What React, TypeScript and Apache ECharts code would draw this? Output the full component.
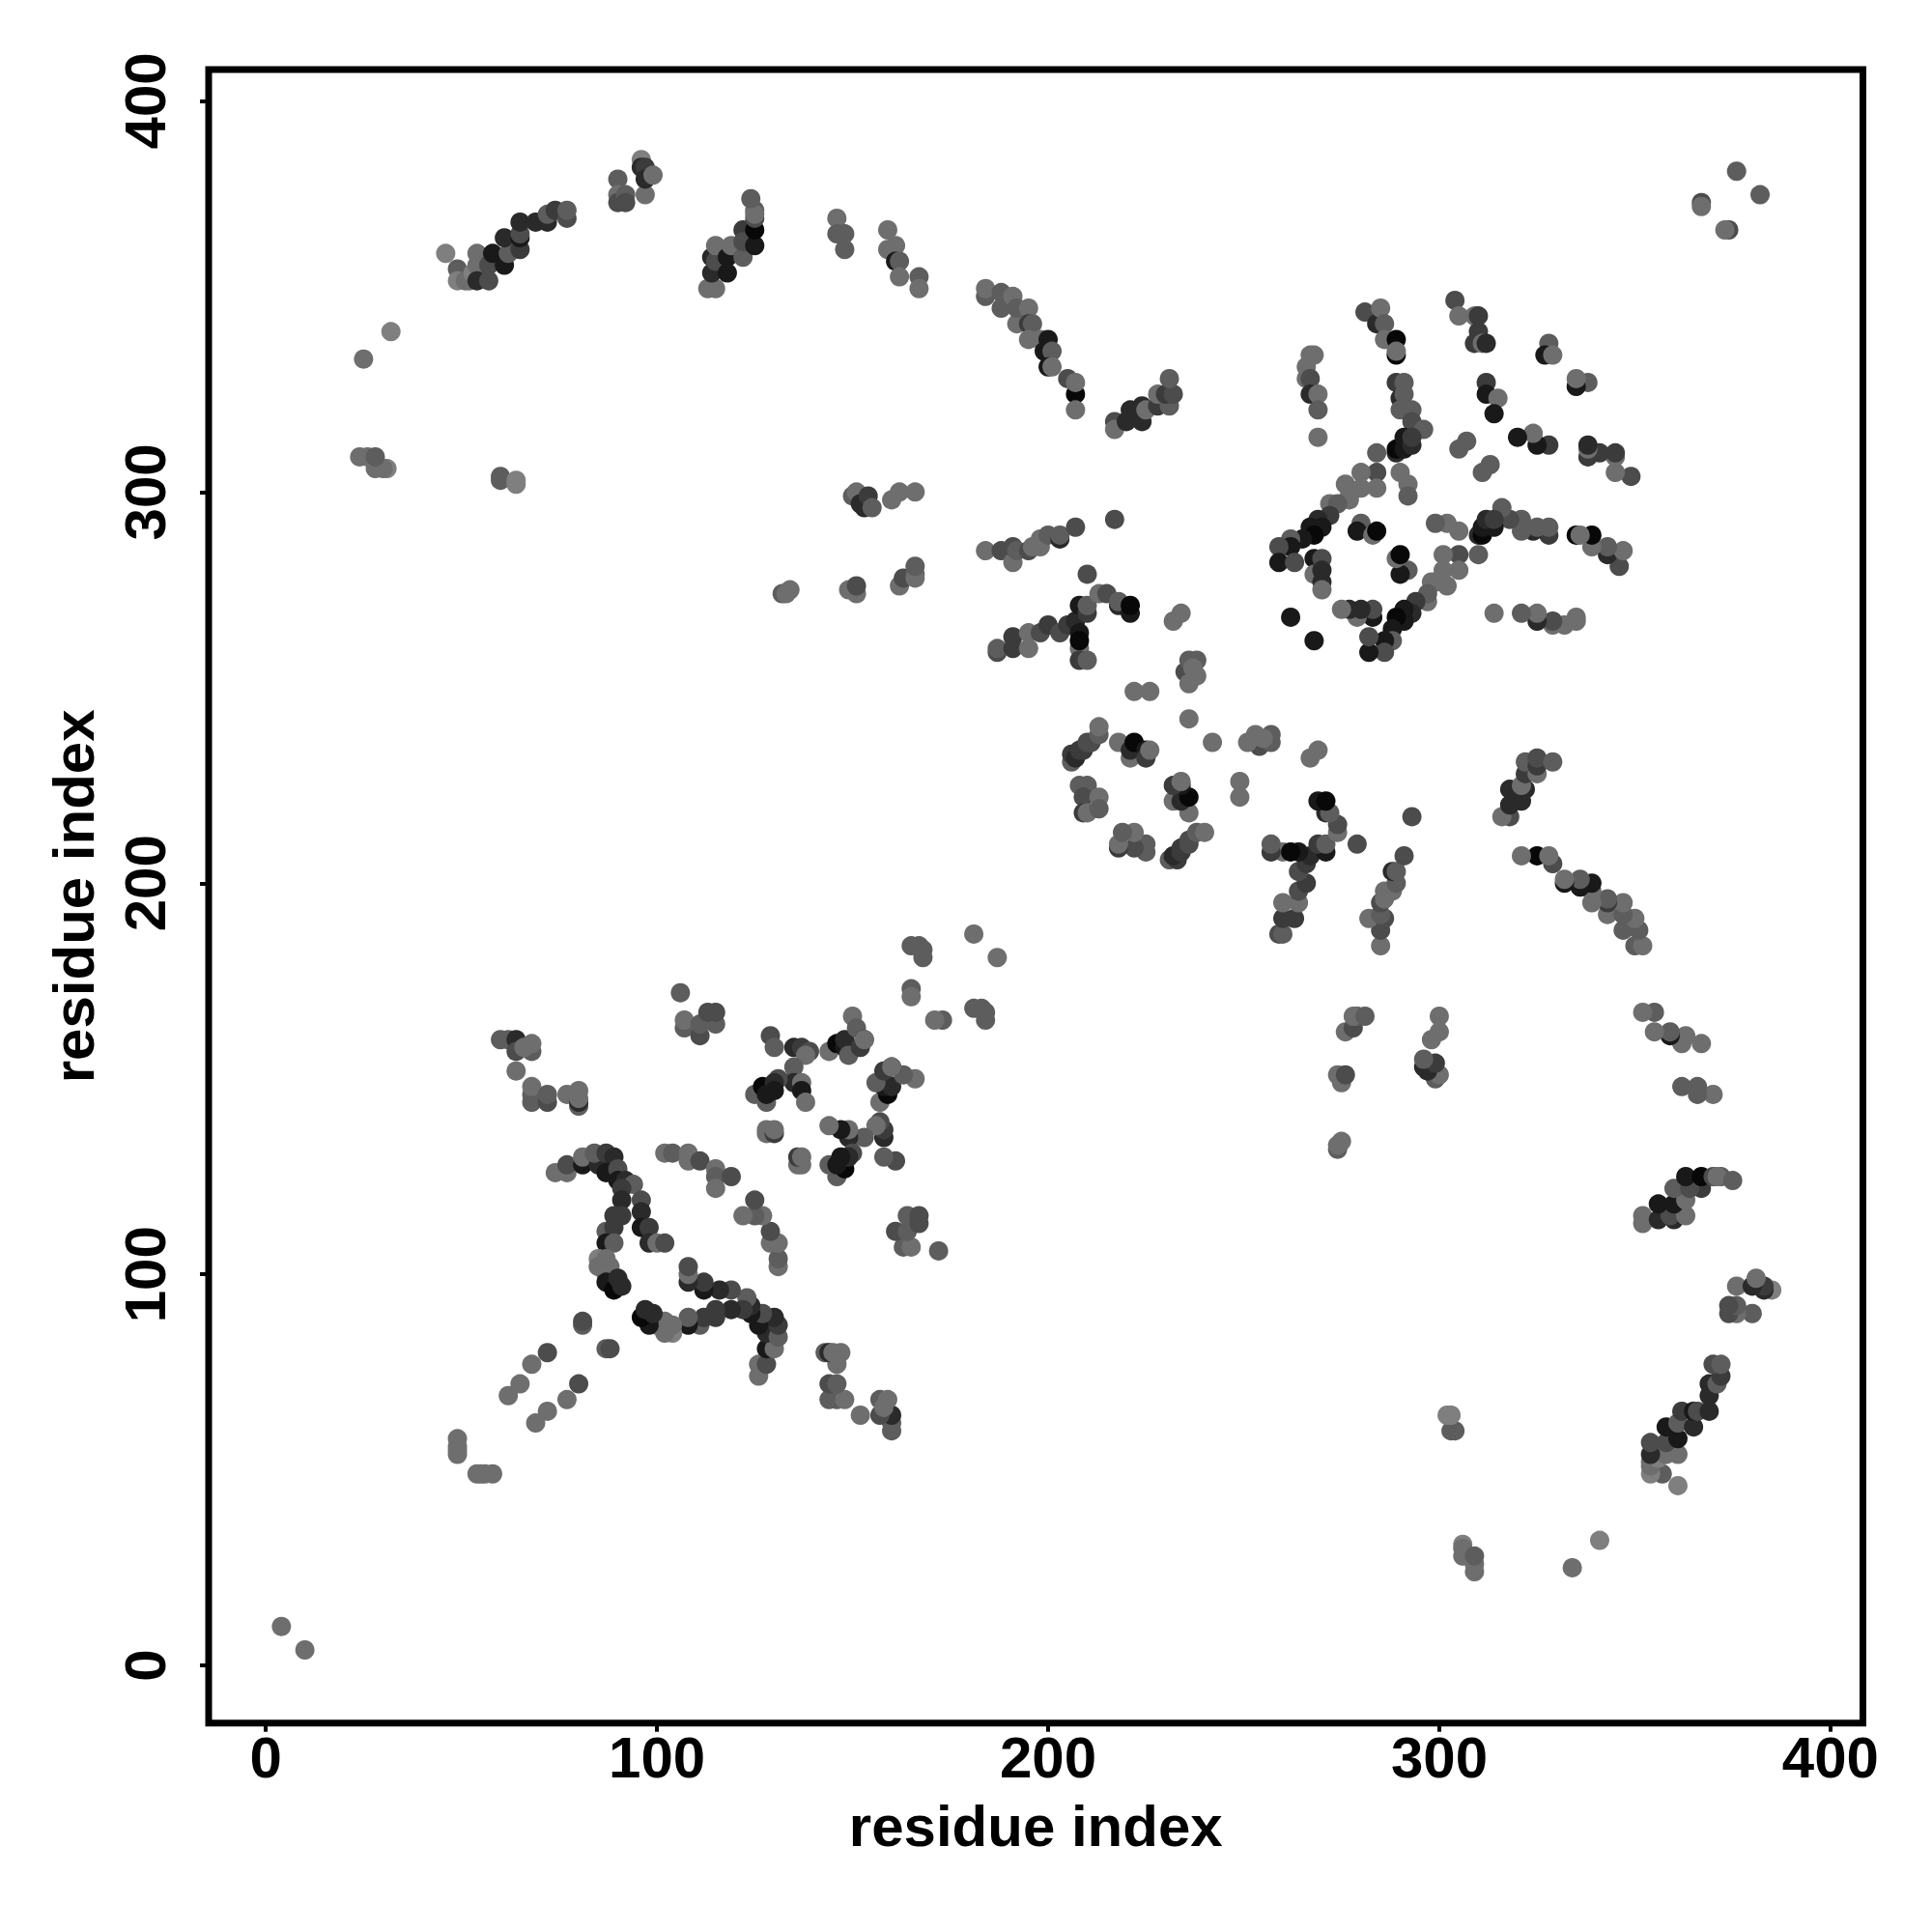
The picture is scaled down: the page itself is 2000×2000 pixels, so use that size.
import React, { useEffect, useRef } from "react";
import * as echarts from "echarts";

// Each contact: [residue i, residue j, strength]. Strength 1 is faint, 8 is darkest.
// The map is symmetric, so only the i < j half is listed and each contact is also drawn as (j, i).
const endContacts = [[4,10,2],[25,334,2],[32,341,1],[24,309,2],[26,309,2],[28,306,2],[31,306,1],[30,306,2],[28,309,3],[60,304,3],[60,303,3],[64,303,1],[64,302,1]];
const nTerminal = [[46,361,1],[49,357,3],[49,354,1],[51,354,2],[52,354,2],[53,356,1],[54,361,2],[54,358,2],[54,354,6],[57,354,4],[57,358,4],[58,361,7],[61,358,7],[62,361,3],[65,362,5],[61,365,6],[65,365,7],[65,366,4],[65,369,6],[69,369,6],[72,369,6],[72,371,3],[74,372,5],[77,370,4],[77,372,3]];
const nTerminal2 = [[90,380,3],[90,376,2],[90,374,4],[92,376,3],[92,374,4],[97,376,2],[96,385,1],[96,383,6],[97,383,5],[97,380,6],[99,381,2]];
const topBand = [[113,352,2],[115,352,2],[114,356,6],[114,360,6],[115,359,4],[115,363,2],[118,356,7],[118,360,7],[119,363,2],[122,360,3],[122,367,5],[122,364,4],[125,363,7],[125,367,8],[125,370,4],[125,372,3],[125,371,2],[124,375,3],[146,370,2],[146,366,3],[148,366,3],[148,362,3],[159,367,2],[159,362,2],[161,363,2],[161,359,7],[162,359,3],[162,355,2],[167,355,3],[167,352,2]];
const topBand2 = [[184,350,3],[184,352,2],[188,347,3],[188,351,3],[191,350,2],[192,343,2],[192,347,3],[195,347,2],[195,343,5],[196,343,3],[195,339,2],[198,339,2],[200,339,7],[199,336,7],[201,336,3],[200,332,7],[201,332,2],[205,329,4],[207,325,8],[207,328,2],[207,321,2],[217,318,4],[217,316,2],[220,318,6],[221,321,6],[224,318,6],[224,322,6],[225,321,2],[228,322,5],[228,325,2],[231,322,3],[230,325,5],[232,325,4],[231,329,3]];
const midBand = [[150,299,3],[151,300,2],[152,297,6],[153,296,6],[154,299,5],[155,296,3],[160,298,2],[162,300,2],[166,300,2],[132,274,3],[133,274,2],[134,275,2],[149,275,2],[151,274,2],[151,276,4],[162,276,2],[163,278,4],[166,279,3],[166,278,2],[166,281,3]];
const midBand2 = [[184,285,2],[188,285,4],[191,282,2],[191,286,4],[192,285,3],[195,285,4],[196,286,2],[198,286,2],[198,288,2],[200,289,3],[203,288,6],[203,289,3],[207,291,4],[217,293,4],[210,279,4],[187,259,4],[187,260,3],[191,263,5],[191,260,5],[195,264,2],[195,260,2],[198,264,4],[200,266,5],[203,264,4],[205,266,5],[208,260,2],[207,267,6],[208,271,7],[208,264,7],[208,262,8],[208,257,5],[210,257,3],[210,269,5],[210,271,3],[213,274,2],[215,274,4],[218,271,6],[218,272,3],[221,269,7],[221,271,8],[234,269,2],[232,267,2],[235,254,4],[236,257,3],[238,257,3],[237,255,2],[238,253,2],[236,251,2],[222,249,2],[226,249,2],[236,242,2]];
const ring = [[206,231,3],[206,233,5],[207,232,6],[208,234,5],[209,234,5],[210,236,4],[211,236,4],[213,238,3],[213,240,2],[208,225,3],[210,225,3],[209,222,4],[209,218,5],[210,218,2],[213,222,2],[213,219,3],[218,236,2],[221,232,2],[221,234,6],[222,236,8],[225,234,7],[225,232,5],[226,234,2]];
const upperRight = [[281,346,4],[284,343,6],[285,347,2],[286,343,3],[286,339,2],[289,339,8],[289,335,8],[289,336,2],[289,328,5],[291,328,3],[290,324,6],[291,325,3],[290,321,3],[293,321,3],[293,318,4],[296,316,3],[289,310,6],[289,311,8],[291,311,7],[291,314,7],[293,312,6],[293,314,5],[304,349,4],[305,345,2],[309,345,2],[310,345,5],[310,341,5],[309,338,5],[311,338,2],[312,338,6],[328,338,3],[327,335,7],[329,335,2],[312,328,5],[312,325,7],[315,324,2],[314,320,7],[307,313,3],[305,311,3]];
const upperRight2 = [[267,335,2],[268,335,2],[266,332,2],[266,329,2],[267,329,4],[267,325,6],[269,325,2],[269,321,3],[269,314,2],[284,310,3],[284,305,4],[284,301,2],[280,305,2],[280,301,2],[276,302,2],[277,299,2],[277,298,2],[272,297,2],[274,297,3],[272,294,5],[269,293,6],[270,291,7],[267,291,7],[268,289,8],[265,288,7],[262,288,3],[262,286,7],[259,286,4],[259,282,7],[263,282,4],[268,283,7],[270,283,4],[268,279,2],[270,280,6],[270,277,6],[270,275,2],[262,268,7],[280,292,3],[279,290,7],[283,289,2],[284,290,8],[290,305,2],[292,302,2],[292,299,3]];
const lowerLeftA = [[74,126,2],[77,126,2],[77,128,4],[81,128,7],[81,130,2],[85,128,6],[84,131,3],[87,131,5],[89,130,6],[87,126,7],[90,127,4],[90,124,7],[92,124,6],[94,123,3],[91,122,5],[91,119,6],[96,119,4],[96,116,6],[89,115,5],[91,115,5],[87,111,3],[89,112,5],[96,112,7],[98,112,5],[98,108,6],[100,108,2],[102,108,4],[87,108,7],[89,108,3]];
const lowerLeftB = [[85,104,1],[87,104,2],[85,102,2],[88,102,2],[87,100,2],[87,98,7],[89,96,8],[90,99,6],[91,97,6],[81,87,3],[81,88,4],[72,80,4],[68,77,2],[65,72,2],[62,69,2],[49,58,2],[49,56,2],[49,55,2],[49,54,2]];
const lowerLeftC = [[102,131,2],[104,131,3],[108,131,2],[108,129,2],[111,129,4],[115,127,2],[115,125,3],[119,125,4],[115,122,2]];
const starCluster = [[129,161,4],[130,158,3],[135,158,6],[137,158,5],[139,157,4],[138,156,2],[135,153,3],[135,150,3],[135,149,6],[137,149,2],[137,147,7],[138,144,2],[131,150,4],[125,146,3],[128,144,3],[127,148,8],[128,146,7],[130,149,6],[130,147,7],[144,157,2],[146,159,8],[148,158,7],[148,160,6],[149,156,3],[150,166,2],[151,163,3],[152,158,5],[153,160,7],[153,160,2],[128,136,2],[128,137,2],[130,136,5],[130,137,2]];
const leftStrand = [[60,160,3],[62,160,3],[64,160,6],[64,157,4],[68,157,3],[66,158,2],[68,159,2],[64,152,2],[68,146,3],[68,144,3],[68,148,2],[72,144,4],[72,146,3],[77,146,2],[80,143,3],[80,144,6],[80,145,2],[80,147,2]];
const midLeft = [[106,172,3],[107,163,3],[107,165,2],[111,161,4],[111,164,3],[115,164,3],[113,167,4],[115,167,4],[165,173,3],[165,171,2],[165,184,3],[167,184,3],[168,183,3],[168,181,3],[181,187,2]];
const farEnd = [[367,374,4],[367,373,2],[376,382,3]];

const contactGroups = [endContacts, nTerminal, nTerminal2, topBand, topBand2, midBand, midBand2, ring, upperRight, upperRight2, lowerLeftA, lowerLeftB, lowerLeftC, starCluster, leftStrand, midLeft, farEnd];
const tickValues = [0, 100, 200, 300, 400];
const axisTitle = "residue index";

const FONT = '"Liberation Sans", Arial, sans-serif';

function shade(strength: number) {
  const g = Math.max(0, 0x90 - strength * 0x11);
  return `rgb(${g},${g},${g})`;
}

function axisOptions(min: number, max: number, rotate: number, margin: number, nameGap: number) {
  return {
    type: "value",
    min,
    max,
    name: axisTitle,
    nameLocation: "middle",
    nameGap,
    nameTextStyle: { fontFamily: FONT, fontWeight: "bold", fontSize: 60, color: "#000" },
    axisLine: { show: false, onZero: false },
    axisTick: { show: true, length: 9, customValues: tickValues, lineStyle: { color: "#000", width: 4 } },
    axisLabel: { show: true, rotate, margin, customValues: tickValues, fontFamily: FONT, fontWeight: "bold", fontSize: 60, color: "#000" },
    splitLine: { show: false },
  };
}

export default function App() {
  const ref = useRef<HTMLDivElement>(null);
  useEffect(() => {
    const chart = echarts.init(ref.current!, undefined, { renderer: "svg" });
    const points = contactGroups.flatMap((g) => [...g, ...g.map(([i, j, s]) => [j, i, s])]);
    chart.setOption({
      animation: false,
      backgroundColor: "#fff",
      grid: { show: true, left: 216, top: 72, width: 1712.5, height: 1711.7, borderColor: "#000", borderWidth: 7, backgroundColor: "transparent" },
      xAxis: axisOptions(-14.6, 408.3, 0, 6, 77),
      yAxis: axisOptions(-14.7, 408, 90, 36, 110),
      series: [
        {
          type: "scatter",
          symbol: "circle",
          symbolSize: 20,
          silent: true,
          data: points,
          itemStyle: { opacity: 1, color: (p: any) => shade(p.data[2]) },
        },
      ],
    });
    return () => chart.dispose();
  }, []);
  return <div ref={ref} style={{ position: "fixed", left: 0, top: 0, width: 2000, height: 2000 }} />;
}
